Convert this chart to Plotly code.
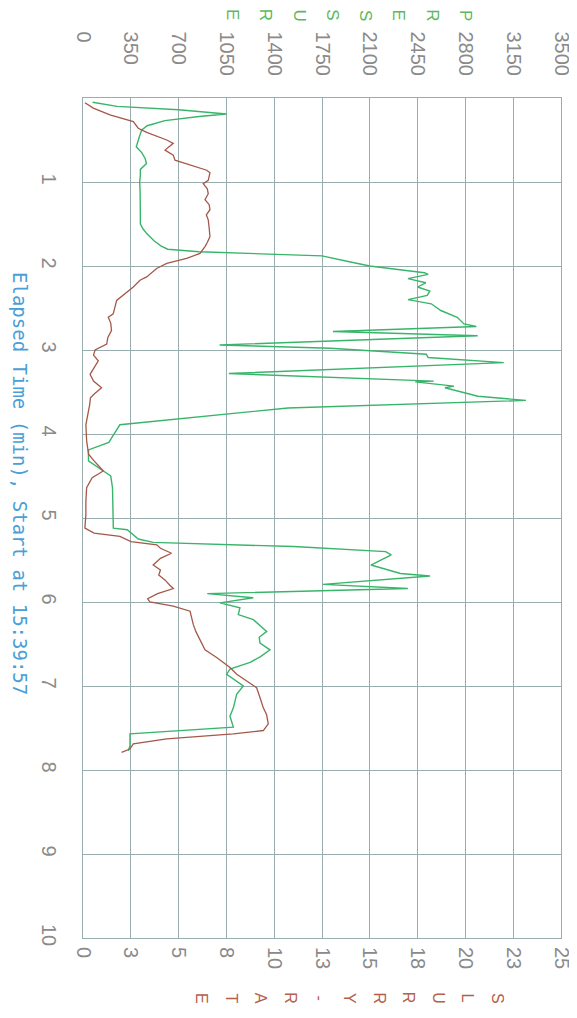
import plotly.graph_objects as go

# ---------------- data ----------------
time_p = [0.05, 0.10, 0.14, 0.19, 0.22, 0.27, 0.33, 0.38, 0.45, 0.52, 0.58, 0.65, 0.72, 0.78, 0.85,
          0.92, 1.00, 1.10, 1.20, 1.30, 1.40, 1.50, 1.56, 1.62, 1.70, 1.76, 1.80, 1.83, 1.86, 1.88,
          1.95, 2.00, 2.05, 2.08, 2.10, 2.15, 2.20, 2.25, 2.30, 2.35, 2.40, 2.45, 2.53, 2.61, 2.69,
          2.72, 2.78, 2.83, 2.94, 2.98, 3.05, 3.09, 3.15, 3.28, 3.37, 3.38, 3.43, 3.45, 3.55, 3.60,
          3.69, 3.89, 3.96, 4.10, 4.19, 4.32, 4.44, 4.50, 4.64, 4.90, 5.12, 5.14, 5.25, 5.29, 5.34,
          5.40, 5.44, 5.56, 5.66, 5.69, 5.79, 5.84, 5.90, 5.95, 6.01, 6.07, 6.15, 6.21, 6.28, 6.35,
          6.42, 6.49, 6.57, 6.65, 6.72, 6.80, 6.86, 6.92, 7.00, 7.10, 7.20, 7.26, 7.36, 7.49, 7.57,
          7.71, 7.77]
pressure = [70, 250, 700, 1050, 850, 600, 470, 430, 415, 400, 390, 430, 455, 465, 420,
            420, 415, 418, 420, 418, 420, 420, 440, 470, 520, 570, 620, 850, 1500, 1750,
            1950, 2100, 2350, 2500, 2527, 2380, 2510, 2450, 2540, 2520, 2380, 2550, 2620, 2740, 2790,
            2880, 1830, 2890, 1000, 1810, 2514, 2527, 3081, 1068, 2568, 2433, 2716, 2650, 2892, 3243,
            1500, 270, 243, 189, 40, 40, 149, 203, 216, 218, 222, 324, 405, 514, 1541,
            2216, 2257, 2108, 2325, 2541, 1757, 2379, 910, 1247, 1003, 1149, 1137, 1247, 1300, 1345,
            1290, 1296, 1369, 1300, 1223, 1076, 1052, 1101, 1174, 1125, 1110, 1101, 1076, 1101, 344,
            344, 332]

time_r = [0.056, 0.12, 0.20, 0.28, 0.36, 0.41, 0.50, 0.54, 0.62, 0.68, 0.74, 0.86, 0.89, 0.98, 1.02,
          1.08, 1.14, 1.21, 1.27, 1.33, 1.39, 1.45, 1.55, 1.65, 1.72, 1.77, 1.85, 1.91, 1.97, 2.03,
          2.13, 2.17, 2.25, 2.31, 2.41, 2.57, 2.61, 2.68, 2.77, 2.85, 2.93, 3.00, 3.06, 3.13, 3.20,
          3.29, 3.37, 3.45, 3.52, 3.57, 3.65, 3.73, 3.89, 4.08, 4.24, 4.32, 4.44, 4.52, 4.64, 4.80,
          4.96, 5.12, 5.18, 5.22, 5.28, 5.32, 5.36, 5.42, 5.48, 5.56, 5.62, 5.68, 5.74, 5.80, 5.84,
          5.90, 5.96, 6.00, 6.05, 6.11, 6.20, 6.27, 6.35, 6.45, 6.57, 6.66, 6.78, 6.86, 6.94, 7.02,
          7.14, 7.26, 7.34, 7.45, 7.53, 7.57, 7.63, 7.69, 7.75, 7.79]
slurry_rate = [0.1, 0.54, 1.41, 2.63, 2.89, 3.33, 4.38, 4.72, 4.29, 4.72, 4.81, 6.47, 6.64, 6.55, 6.29,
               6.5, 6.55, 6.38, 6.6, 6.64, 6.45, 6.55, 6.6, 6.64, 6.5, 6.38, 6.12, 5.42, 4.38, 3.85,
               3.33, 2.98, 2.63, 2.28, 1.76, 1.58, 1.32, 1.45, 1.49, 1.3, 1.24, 0.63, 0.55, 0.8, 0.6,
               0.37, 0.55, 0.97, 0.6, 0.39, 0.35, 0.29, 0.15, 0.19, 0.29, 0.58, 1.06, 0.48, 0.19, 0.15,
               0.15, 0.1, 0.58, 1.93, 2.51, 3.86, 4.05, 4.63, 4.05, 3.67, 4.05, 3.96, 4.3, 4.54, 4.73,
               3.9, 3.38, 3.5, 4.72, 5.6, 5.7, 5.77, 5.9, 6.12, 6.38, 6.99, 7.69, 8.04, 8.56, 9.08,
               9.26, 9.43, 9.6, 9.69, 9.43, 7.86, 4.38, 2.63, 2.45, 2.02]

time_ticks = [1, 2, 3, 4, 5, 6, 7, 8, 9, 10]
pressure_ticks = [0, 350, 700, 1050, 1400, 1750, 2100, 2450, 2800, 3150, 3500]
rate_ticks = [0, 2.5, 5, 7.5, 10, 12.5, 15, 17.5, 20, 22.5, 25]
rate_labels = ["0", "3", "5", "8", "10", "13", "15", "18", "20", "23", "25"]
time_title = "Elapsed Time (min), Start at 15:39:57"
pressure_letters = list("PRESSURE")
rate_letters = list("SLURRY-RATE")

# ---------------- style ----------------
GREEN = "#38b56a"
BROWN = "#a5584a"
GRID = "#98aeae"
TICK = "#8a8a8a"
NARROW = "Liberation Sans Narrow, Arial Narrow, Liberation Sans, Arial, sans-serif"
NBSP = "\u00a0"

# the page body has an 8px margin: the figure is sized to reach the window's edges
OFF = 8
W, H = 577 - OFF, 1018 - 2 * OFF
PL, PR, PT, PB = 83, 561, 98, 938          # plot box in window pixels
L, R, T, B = PL - OFF, W - (PR - OFF), PT - OFF, H - (PB - OFF)
pw, ph = W - L - R, H - T - B


def px_x(px):
    return (px - PL) / pw


def px_y(py):
    return (PB - py) / ph


# pad pressure labels so that they all start at the same place (top-aligned)
maxlen = max(len(str(v)) for v in pressure_ticks)
pressure_labels = [str(v) + NBSP * (2 * (maxlen - len(str(v)))) for v in pressure_ticks]

fig = go.Figure()
fig.add_trace(go.Scatter(x=pressure, y=time_p, mode="lines", xaxis="x", yaxis="y",
                         line=dict(color=GREEN, width=1.4), showlegend=False))
fig.add_trace(go.Scatter(x=slurry_rate, y=time_r, mode="lines", xaxis="x2", yaxis="y",
                         line=dict(color=BROWN, width=1.3), showlegend=False))

fig.update_layout(
    width=W, height=H,
    margin=dict(l=L, r=R, t=T, b=B, autoexpand=False),
    paper_bgcolor="white", plot_bgcolor="white",
    xaxis=dict(range=[0, 3500], side="top", tickvals=pressure_ticks, ticktext=pressure_labels,
               tickangle=90, showgrid=True, gridcolor=GRID, gridwidth=1, zeroline=False,
               showline=True, linecolor=GRID, mirror=True, ticks="outside", ticklen=14,
               tickcolor="rgba(0,0,0,0)", ticklabeloverflow="allow",
               tickfont=dict(family=NARROW, size=20, color=TICK)),
    xaxis2=dict(range=[0, 25], side="bottom", overlaying="x", anchor="y", tickvals=rate_ticks,
                ticktext=rate_labels, tickangle=90, showgrid=False, zeroline=False,
                showline=False, ticks="outside", ticklen=4, tickcolor="rgba(0,0,0,0)",
                ticklabeloverflow="allow",
                tickfont=dict(family=NARROW, size=20, color=TICK)),
    yaxis=dict(range=[10, 0], tickvals=time_ticks, tickangle=90, showgrid=True, gridcolor=GRID,
               gridwidth=1, zeroline=False, showline=True, linecolor=GRID, mirror=True,
               ticks="outside", ticklen=16, tickcolor="rgba(0,0,0,0)",
               ticklabeloverflow="allow",
               tickfont=dict(family=NARROW, size=20, color=TICK)),
)

annotations = [dict(text=time_title, xref="paper", yref="paper", x=px_x(20), y=px_y(483),
                    textangle=90, showarrow=False, xanchor="center", yanchor="middle",
                    font=dict(family="DejaVu Sans Mono, monospace", size=19, color="#4a9fd8"))]

for i, ch in enumerate(pressure_letters):
    annotations.append(dict(text=ch, xref="paper", yref="paper", x=px_x(465 - i * 33.3), y=px_y(15),
                            textangle=90, showarrow=False, xanchor="center", yanchor="middle",
                            font=dict(family=NARROW, size=17, color="#5cb85c")))
for i, ch in enumerate(rate_letters):
    annotations.append(dict(text=ch, xref="paper", yref="paper", x=px_x(498 - i * 29.6), y=px_y(998),
                            textangle=90, showarrow=False, xanchor="center", yanchor="middle",
                            font=dict(family=NARROW, size=16, color="#b5604c")))
fig.update_layout(annotations=annotations)

fig.write_html("out.html")
